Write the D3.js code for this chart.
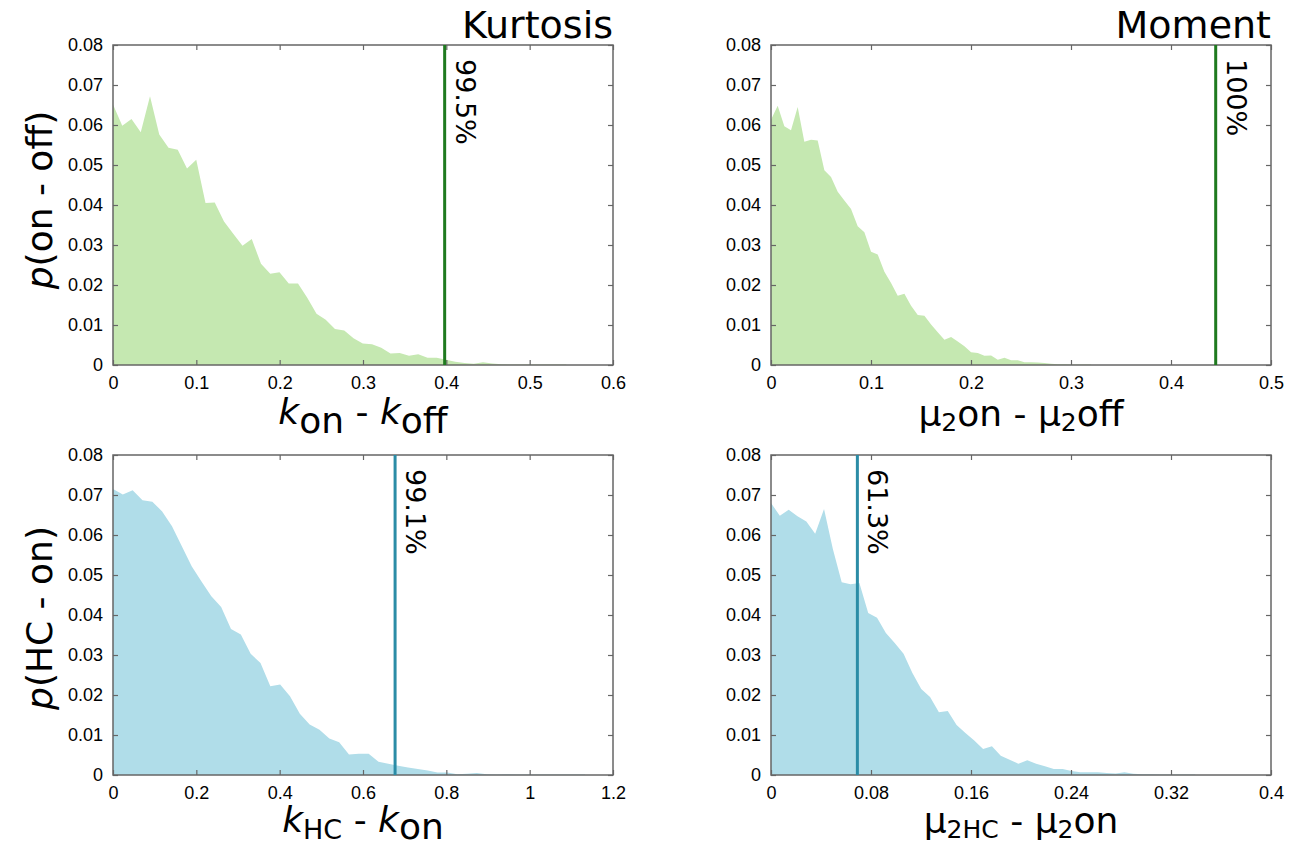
<!DOCTYPE html>
<html>
  <head>
    <meta charset="utf-8">
    <title>Kurtosis / Moment differences</title>
    <style type="text/css">
     html, body {
       margin: 0;
       background: #fff;
     }
     svg {
       font-family: "DejaVu Sans", sans-serif;
     }
     .frame {
       fill: none;
       stroke: #666;
       stroke-width: 1.5px;
     }
     .tick line {
       stroke: #666;
       stroke-width: 1.2px;
     }
     .tick text {
       font-size: 18px;
       fill: #000;
     }
     .domain {
       display: none;
     }
    </style>
  </head>
  <body>
    <svg width="1293" height="846"></svg>
    <script src="https://cdn.jsdelivr.net/npm/d3@7"></script>
    <script>
     // histogram heights, one value per bin
     var kurtOnOff = [0.0651, 0.0598, 0.0615, 0.0582, 0.0672, 0.0576, 0.0543, 0.0538, 0.0491, 0.0513,
                      0.0405, 0.0406, 0.0359, 0.0328, 0.0298, 0.0315, 0.0253, 0.0228, 0.0232, 0.0204,
                      0.0204, 0.0168, 0.0128, 0.0113, 0.0090, 0.0086, 0.0067, 0.0054, 0.0052, 0.0043,
                      0.0029, 0.0030, 0.0023, 0.0027, 0.0018, 0.0018, 0.0013, 0.0008, 0.0005, 0.0003,
                      0.0007, 0.0004, 0.0002, 0.0001, 0.0001, 0.0001, 0.0001, 0.0001, 0.0001, 0.0001];
     var momOnOff = [0.0613, 0.0648, 0.0597, 0.0587, 0.0645, 0.0558, 0.0563, 0.0561, 0.0487, 0.0470,
                     0.0433, 0.0411, 0.0390, 0.0347, 0.0332, 0.0283, 0.0276, 0.0233, 0.0205, 0.0173,
                     0.0178, 0.0148, 0.0125, 0.0123, 0.0101, 0.0082, 0.0063, 0.0070, 0.0059, 0.0047,
                     0.0032, 0.0030, 0.0023, 0.0024, 0.0013, 0.0018, 0.0012, 0.0012, 0.0007, 0.0007,
                     0.0006, 0.0005, 0.0003, 0.0002, 0.0002, 0.0001, 0.0001, 0.0001, 0.0001];
     var kurtHcOn = [0.0715, 0.0701, 0.0712, 0.0687, 0.0683, 0.0659, 0.0622, 0.0572, 0.0522, 0.0484,
                     0.0447, 0.0420, 0.0365, 0.0351, 0.0303, 0.0280, 0.0222, 0.0226, 0.0197, 0.0153,
                     0.0126, 0.0113, 0.0091, 0.0082, 0.0051, 0.0053, 0.0053, 0.0033, 0.0028, 0.0023,
                     0.0019, 0.0015, 0.0011, 0.0006, 0.0006, 0.0002, 0.0003, 0.0005, 0.0002, 0.0001,
                     0.0002, 0.0001, 0.0001, 0.0001, 0.0001, 0.0001, 0.0001, 0.0001, 0.0001];
     var momHcOn = [0.0680, 0.0648, 0.0663, 0.0647, 0.0634, 0.0603, 0.0665, 0.0565, 0.0482, 0.0477,
                    0.0480, 0.0405, 0.0393, 0.0355, 0.0330, 0.0303, 0.0255, 0.0215, 0.0195, 0.0157,
                    0.0160, 0.0125, 0.0105, 0.0086, 0.0065, 0.0072, 0.0048, 0.0038, 0.0028, 0.0037,
                    0.0028, 0.0022, 0.0015, 0.0015, 0.0010, 0.0007, 0.0007, 0.0007, 0.0005, 0.0004,
                    0.0007, 0.0003, 0.0002, 0.0002, 0.0001, 0.0001, 0.0001, 0.0001, 0.0001];

     var binWidths = [0.0111, 0.00667, 0.0236, 0.00707];
     var observed = [0.398, 0.4447, 0.677, 0.0691];
     var observedLabels = ["99.5%", "100%", "99.1%", "61.3%"];
     var xMaxes = [0.6, 0.5, 1.2, 0.4];
     var xTickValues = [[0, 0.1, 0.2, 0.3, 0.4, 0.5, 0.6],
                        [0, 0.1, 0.2, 0.3, 0.4, 0.5],
                        [0, 0.2, 0.4, 0.6, 0.8, 1, 1.2],
                        [0, 0.08, 0.16, 0.24, 0.32, 0.4]];
     var yTickValues = [0, 0.01, 0.02, 0.03, 0.04, 0.05, 0.06, 0.07, 0.08];
     var titles = ["Kurtosis", "Moment", "", ""];

     var svg = d3.select("svg");

     var panels = [
       {data: kurtOnOff, left: 113, top: 45, fill: "#c5e8b1", line: "#1f7a1f"},
       {data: momOnOff, left: 771, top: 45, fill: "#c5e8b1", line: "#1f7a1f"},
       {data: kurtHcOn, left: 113, top: 455, fill: "#b0dde9", line: "#2b8ca6"},
       {data: momHcOn, left: 771, top: 455, fill: "#b0dde9", line: "#2b8ca6"}
     ];
     var pw = 500, ph = 320;

     panels.forEach(function(p, i) {
       var g = svg.append("g").attr("transform", `translate(${p.left},${p.top})`);

       var x = d3.scaleLinear().domain([0, xMaxes[i]]).range([0, pw]);
       var y = d3.scaleLinear().domain([0, 0.08]).range([ph, 0]);

       var area = d3.area()
                    .x((d, j) => x(j * binWidths[i]))
                    .y0(y(0))
                    .y1(d => y(d));

       g.append("path")
        .datum(p.data)
        .attr("d", area)
        .attr("fill", p.fill);

       // ticks on all four sides, pointing inward
       var fmt = d => d === 0 ? "0" : String(+d.toFixed(3));
       g.append("g")
        .attr("transform", `translate(0,${ph})`)
        .call(d3.axisBottom(x).tickValues(xTickValues[i]).tickSize(-5).tickPadding(9).tickFormat(fmt))
        .selectAll("text").attr("dy", "0.85em");
       g.append("g")
        .call(d3.axisTop(x).tickValues(xTickValues[i]).tickSize(-5).tickFormat(""));
       g.append("g")
        .call(d3.axisLeft(y).tickValues(yTickValues).tickSize(-5).tickPadding(10).tickFormat(fmt));
       g.append("g")
        .attr("transform", `translate(${pw},0)`)
        .call(d3.axisRight(y).tickValues(yTickValues).tickSize(-5).tickFormat(""));

       g.append("rect")
        .attr("class", "frame")
        .attr("width", pw)
        .attr("height", ph);

       var xv = x(observed[i]);
       g.append("line")
        .attr("x1", xv).attr("x2", xv)
        .attr("y1", 0).attr("y2", ph)
        .attr("stroke", p.line)
        .attr("stroke-width", 3);

       g.append("text")
        .attr("transform", `translate(${xv + 11},14) rotate(90)`)
        .attr("font-size", 27)
        .text(observedLabels[i]);

       if (titles[i]) {
         g.append("text")
          .attr("x", pw)
          .attr("y", -7)
          .attr("text-anchor", "end")
          .attr("font-size", 38)
          .text(titles[i]);
       }
     });

     // y axis labels
     function yLabel(txt, cy) {
       var t = svg.append("text")
                  .attr("transform", `translate(52,${cy}) rotate(-90)`)
                  .attr("text-anchor", "middle")
                  .attr("font-size", 36);
       t.append("tspan").attr("font-style", "italic").text("p");
       t.append("tspan").text(txt);
     }
     yLabel("(on - off)", 200);
     yLabel("(HC - on)", 618);

     // x axis labels with lowered subscripts
     function xLabel(cx, by, parts) {
       var t = svg.append("text")
                  .attr("x", cx).attr("y", by)
                  .attr("text-anchor", "middle")
                  .attr("font-size", 36);
       parts.forEach(function(pt) {
         var s = t.append("tspan").text(pt.t);
         if (pt.it) s.attr("font-style", "italic");
         if (pt.fs) s.attr("font-size", pt.fs);
         if (pt.dy) s.attr("dy", pt.dy);
       });
     }
     xLabel(363, 424, [{t: "k", it: 1}, {t: "on", dy: 9}, {t: " - ", dy: -9},
                       {t: "k", it: 1}, {t: "off", dy: 9}]);
     xLabel(1021, 426, [{t: "μ"}, {t: "2", fs: 25, dy: 5}, {t: "on - μ", dy: -5},
                        {t: "2", fs: 25, dy: 5}, {t: "off", dy: -5}]);
     xLabel(363, 832, [{t: "k", it: 1}, {t: "HC", fs: 27, dy: 7}, {t: " - ", dy: -7},
                       {t: "k", it: 1}, {t: "on", dy: 7}]);
     xLabel(1021, 833, [{t: "μ"}, {t: "2HC", fs: 25, dy: 5}, {t: " - μ", dy: -5},
                        {t: "2", fs: 25, dy: 5}, {t: "on", dy: -5}]);
    </script>
  </body>
</html>
